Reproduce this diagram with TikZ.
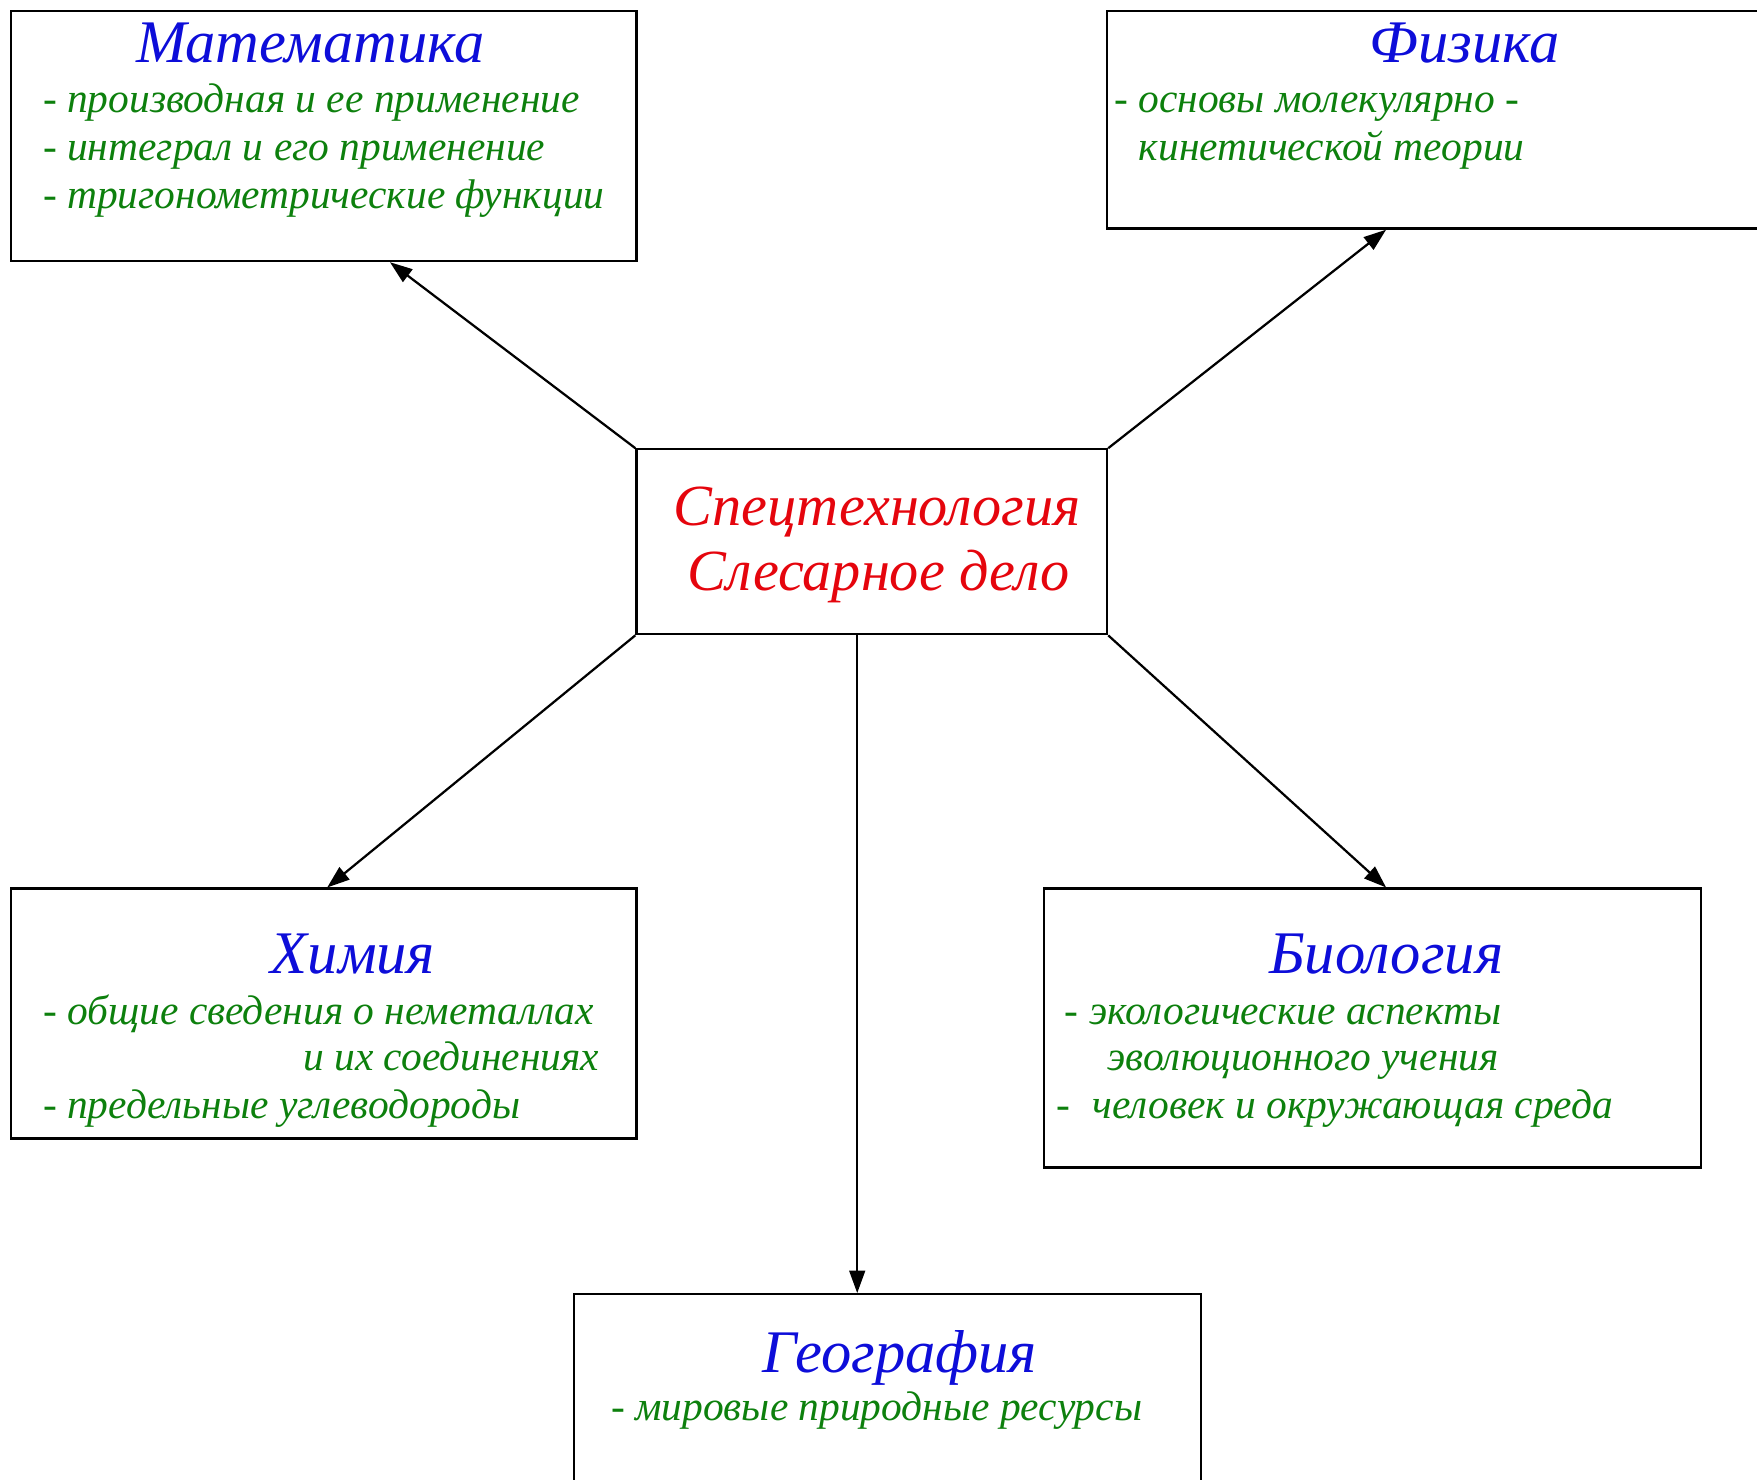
\documentclass[tikz,border=0pt]{standalone}
\usepackage{fontspec}
\setmainfont{Liberation Serif}
\usetikzlibrary{arrows.meta}
\definecolor{ttlblue}{rgb}{0.05,0.05,0.85}
\definecolor{itmgreen}{rgb}{0.05,0.5,0.05}
\definecolor{mainred}{rgb}{0.9,0.02,0.05}

\begin{document}
\begin{tikzpicture}[x=0.5pt, y=-0.5pt,
		box/.style={draw, line width=1pt, inner sep=0pt},
		ttl/.style={anchor=base, inner sep=0pt, text=ttlblue, font=\itshape\fontsize{27}{31}\selectfont},
		itm/.style={anchor=base west, inner sep=0pt, text=itmgreen, font=\itshape\fontsize{18.5}{22}\selectfont},
		mid/.style={anchor=base, inner sep=0pt, text=mainred, font=\itshape\fontsize{26}{30}\selectfont},
		arr/.style={-{Triangle[length=10pt,width=7pt]}, line width=1pt}]
		\useasboundingbox (0,0) rectangle (1568,1320);

		% Boxes
		\node [box, minimum width=279pt, minimum height=111.5pt] (math) at (289,121.5) {};
		\node [box, minimum width=311pt, minimum height=97pt] (phys) at (1299,107) {};
		\node [box, minimum width=210pt, minimum height=82.5pt] (cen) at (778,483.5) {};
		\node [box, minimum width=279pt, minimum height=111.5pt] (chem) at (289,904.5) {};
		\node [box, minimum width=293pt, minimum height=124.5pt] (bio) at (1225,917.5) {};
		\node [box, minimum width=280pt, minimum height=112.5pt] (geo) at (792,1267.5) {};

		% Centre
		\node [mid] (c1) at (783,469) {Спецтехнология};
		\node [mid] (c2) at (784,527) {Слесарное дело};

		% Mathematics
		\node [ttl] (mt) at (277,56) {Математика};
		\node [itm] (m1) at (38,100) {- производная и ее применение};
		\node [itm] (m2) at (38,143) {- интеграл и его применение};
		\node [itm] (m3) at (38,186) {- тригонометрические функции};

		% Physics
		\node [ttl] (pt) at (1307,56) {Физика};
		\node [itm] (p1) at (994,100) {- основы молекулярно -};
		\node [itm] (p2) at (1016,143) {кинетической теории};

		% Chemistry
		\node [ttl] (ct) at (315,869) {Химия};
		\node [itm] (h1) at (38,914) {- общие сведения о неметаллах};
		\node [itm, anchor=base east] (h2) at (535,955) {и их соединениях};
		\node [itm] (h3) at (38,998) {- предельные углеводороды};

		% Biology
		\node [ttl] (bt) at (1237,869) {Биология};
		\node [itm] (b1) at (950,914) {- экологические аспекты};
		\node [itm] (b2) at (988,955) {эволюционного учения};
		\node [itm] (b3) at (942,998) {-\hspace{0.55em}человек и окружающая среда};

		% Geography
		\node [ttl] (gt) at (803,1225) {География};
		\node [itm] (g1) at (545,1268) {- мировые природные ресурсы};

		% Arrows
		\draw [arr] (cen.north west) -- ([xshift=29.5pt]math.south);
		\draw [arr] (cen.north east) -- ([xshift=-31pt]phys.south);
		\draw [arr] (cen.south west) -- ([xshift=1.5pt]chem.north);
		\draw [arr] ([xshift=-6.5pt]cen.south) -- ([xshift=-6.5pt]cen.south |- geo.north);
		\draw [arr] (cen.south east) -- ([xshift=6pt]bio.north);
	\end{tikzpicture}
\end{document}
